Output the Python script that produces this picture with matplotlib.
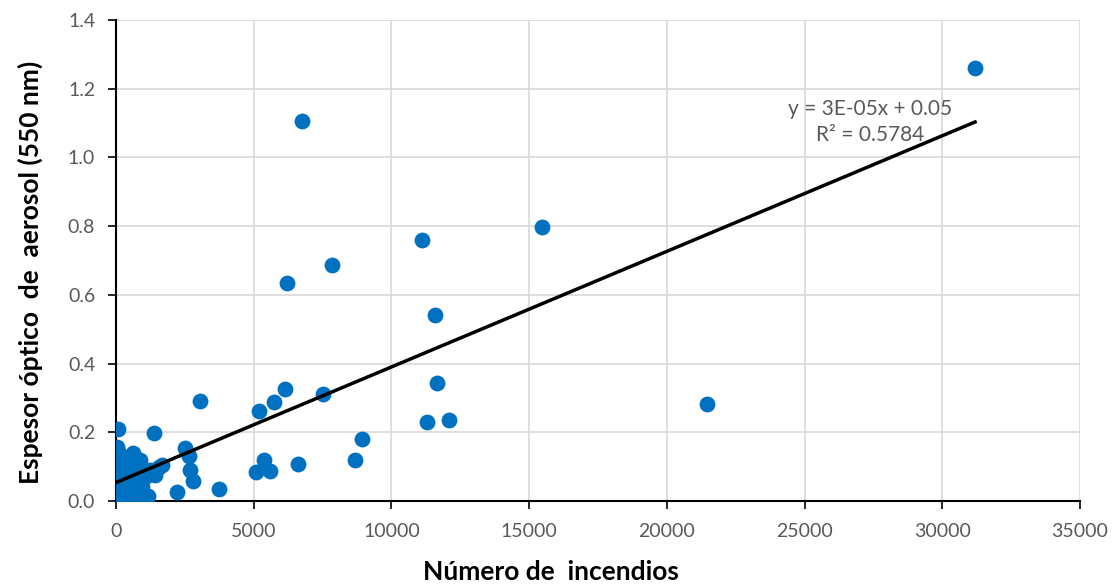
import matplotlib.pyplot as plt
import numpy as np

# datos (número de incendios vs espesor óptico de aerosol)
incendios = [31190, 6754, 15468, 11111, 7843, 6209, 11583, 11656, 6136, 7516,
             3050, 5737, 5192, 21460, 11293, 12092, 8932, 8678, 1380, 2505,
             2650, 2687, 2796, 2215, 3740, 5374, 5083, 5592, 6609, 73,
             40, 617, 870, 1670, 1250, 1050, 950, 1150, 1400, 1550]
aod = [1.260, 1.106, 0.797, 0.760, 0.687, 0.634, 0.541, 0.343, 0.326, 0.311,
       0.291, 0.288, 0.262, 0.282, 0.230, 0.236, 0.180, 0.119, 0.198, 0.154,
       0.131, 0.090, 0.058, 0.026, 0.035, 0.119, 0.084, 0.087, 0.108, 0.210,
       0.157, 0.140, 0.119, 0.105, 0.090, 0.070, 0.040, 0.015, 0.075, 0.100]

# nube de puntos cerca del origen
cerca_x = [0, 0, 0, 0, 0, 0, 0, 0, 0, 20,
           30, 50, 60, 80, 100, 120, 150, 180, 200, 220,
           250, 280, 300, 320, 350, 380, 400, 430, 450, 480,
           500, 550, 600, 650, 700, 750, 800, 850, 900, 1000,
           150, 250, 350, 450, 550, 650, 750, 100, 200, 300]
cerca_y = [0.000, 0.020, 0.040, 0.060, 0.080, 0.100, 0.120, 0.135, 0.010, 0.050,
           0.090, 0.030, 0.110, 0.070, 0.005, 0.125, 0.045, 0.085, 0.015, 0.100,
           0.060, 0.030, 0.075, 0.010, 0.115, 0.050, 0.020, 0.095, 0.065, 0.005,
           0.040, 0.080, 0.025, 0.105, 0.055, 0.010, 0.070, 0.030, 0.090, 0.015,
           0.000, 0.000, 0.015, 0.005, 0.000, 0.010, 0.020, 0.140, 0.035, 0.120]

x = np.array(incendios + cerca_x)
y = np.array(aod + cerca_y)

fig, ax = plt.subplots(figsize=(11.15, 5.86), dpi=100)
fig.subplots_adjust(left=0.104, right=0.9686, top=0.966, bottom=0.145)

ax.scatter(x, y, s=130, color='#0070C0', zorder=3, linewidths=0)

# línea de tendencia lineal
m, b = np.polyfit(x, y, 1)
xl = np.array([0, x.max()])
ax.plot(xl, m * xl + b, color='black', lw=2.5, zorder=4)

ax.set_xlim(0, 35000)
ax.set_ylim(0, 1.4)
ax.set_xticks(np.arange(0, 35001, 5000))
ax.set_yticks(np.arange(0, 1.41, 0.2))
ax.yaxis.set_major_formatter(plt.FuncFormatter(lambda v, p: f'{v:.1f}'))
ax.grid(color='#D9D9D9', lw=1.2)
ax.set_axisbelow(True)
for s in ['top', 'right']:
    ax.spines[s].set_visible(False)
for s in ['left', 'bottom']:
    ax.spines[s].set_linewidth(1.5)
ax.tick_params(labelsize=14, labelcolor='#595959', length=6, width=1.2)
ax.tick_params(axis='x', pad=10)
ax.tick_params(axis='y', pad=9)
for lbl in ax.get_xticklabels() + ax.get_yticklabels():
    lbl.set_family('Lato')

ax.text(0.78, 0.792, 'y = 3E-05x + 0.05\nR² = 0.5784', transform=fig.transFigure,
        ha='center', va='center', fontsize=15, color='#595959', family='Lato',
        linespacing=1.4)

ax.set_xlabel('Número de  incendios', fontsize=19, fontweight='bold', family='Lato')
ax.set_ylabel('Espesor óptico  de  aerosol (550 nm)', fontsize=19, fontweight='bold', family='Lato')
ax.xaxis.set_label_coords(0.451, -0.148)
ax.yaxis.set_label_coords(-0.089, 0.476)
ax.xaxis.label.set_va('center')
ax.yaxis.label.set_va('center')

fig.savefig('out.png', dpi=100)
